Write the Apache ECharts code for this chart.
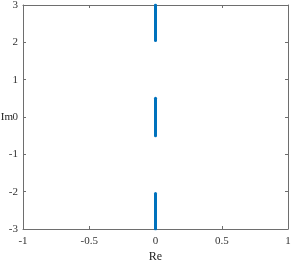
<!DOCTYPE html>
<html><head><meta charset="utf-8">
<script src="https://cdn.jsdelivr.net/npm/echarts@6/dist/echarts.min.js"></script>
<style>html,body{margin:0;padding:0;background:#fff}#c{width:291px;height:263px}</style>
</head><body><div id="c"></div>
<script>
// Eigenvalue branches on the imaginary axis: [re, im] endpoints
const upperBranch = [[0, 2.05], [0, 3]];
const middleBranch = [[0, -0.5], [0, 0.5]];
const lowerBranch = [[0, -3], [0, -2.05]];
const xTicks = [-1, -0.5, 0, 0.5, 1];
const yTicks = [-3, -2, -1, 0, 1, 2, 3];

const font = 'Liberation Serif';
const axisColor = '#6e6e6e';
function mkX(pos, show) {
  return {
    type: 'value', position: pos, min: -1, max: 1, interval: 0.5,
    axisLine: {show: true, onZero: false, lineStyle: {color: axisColor, width: 1}},
    axisTick: {show: true, inside: true, length: 3, lineStyle: {color: axisColor}},
    axisLabel: {show: show, color: '#333', fontFamily: font, fontSize: 11, margin: 7,
      formatter: v => String(v)},
    splitLine: {show: false},
    name: show ? 'Re' : '', nameLocation: 'middle', nameGap: 22, nameMoveOverlap: false,
    nameTextStyle: {color: '#222', fontFamily: font, fontSize: 12}
  };
}
function mkY(pos, show) {
  return {
    type: 'value', position: pos, min: -3, max: 3, interval: 1,
    axisLine: {show: true, onZero: false, lineStyle: {color: axisColor, width: 1}},
    axisTick: {show: true, inside: true, length: 3, lineStyle: {color: axisColor}},
    axisLabel: {show: show, color: '#333', fontFamily: font, fontSize: 11, margin: 5,
      formatter: v => String(v)},
    splitLine: {show: false},
    name: show ? 'Im' : '', nameLocation: 'middle', nameGap: 10, nameRotate: 0, nameMoveOverlap: false,
    nameTextStyle: {color: '#222', fontFamily: font, fontSize: 11, padding: [0, 0, 6, 0]}
  };
}
function seg(d) {
  return {type: 'line', data: d, symbol: 'none', xAxisIndex: 0, yAxisIndex: 0,
    lineStyle: {color: '#0072BD', width: 3, cap: 'round'}, animation: false};
}
const chart = echarts.init(document.getElementById('c'), null, {renderer: 'canvas'});
chart.setOption({
  animation: false,
  grid: {left: 23, right: 3, top: 5, bottom: 34, containLabel: false, outerBoundsMode: 'none'},
  xAxis: [mkX('bottom', true), mkX('top', false)],
  yAxis: [mkY('left', true), mkY('right', false)],
  series: [seg(upperBranch), seg(middleBranch), seg(lowerBranch)]
});
</script></body></html>
